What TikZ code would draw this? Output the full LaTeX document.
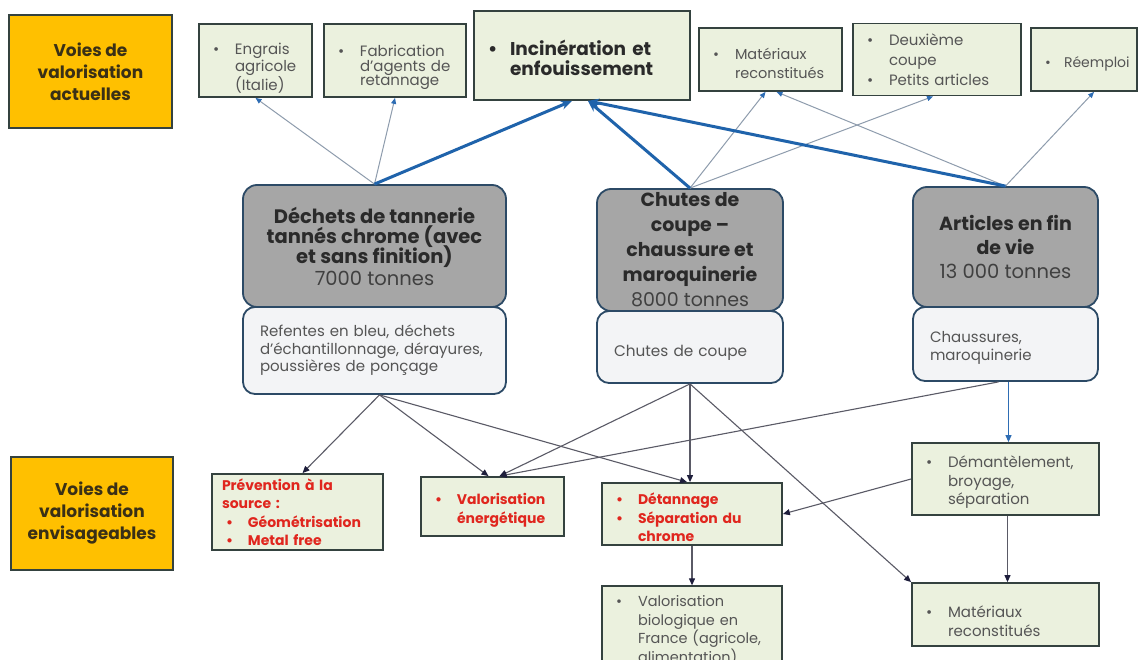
\documentclass[tikz,border=0pt]{standalone}
\usepackage{fontspec}
\setmainfont{Poppins}
\usetikzlibrary{arrows.meta}
\definecolor{orangefill}{HTML}{FFC000}
\definecolor{orangetext}{HTML}{3A3016}
\definecolor{greenfill}{HTML}{EBF1DE}
\definecolor{boxline}{HTML}{34423F}
\definecolor{grayfill}{HTML}{A6A6A6}
\definecolor{grayline}{HTML}{2C4A66}
\definecolor{whitefill}{HTML}{F3F4F6}
\definecolor{txtgray}{HTML}{555555}
\definecolor{txtdark}{HTML}{2A2A2A}
\definecolor{redtxt}{HTML}{E0261E}
\definecolor{bluethick}{HTML}{1F63AB}
\definecolor{thinline}{HTML}{8E9CAD}
\definecolor{bluetip}{HTML}{2E6DB4}
\definecolor{darkline}{HTML}{5A5A66}
\definecolor{darktip}{HTML}{1E1E3C}
\newcommand\bl[2][26pt]{\par\noindent\hangindent=#1\hangafter=1\hbox to #1{\hskip4pt\textbullet\hss}#2\par}
\newcommand\upst[1]{\rule{0pt}{#1}}
\newcommand\dnst[1]{\rule[-#1]{0pt}{0pt}}
\tikzset{
  orangebox/.style={draw=boxline, line width=1.6pt, fill=orangefill, text=orangetext,
    font=\fontsize{17}{22}\selectfont\bfseries, align=center},
  gbox/.style={draw=boxline, line width=1.8pt, fill=greenfill, text=txtgray,
    inner xsep=10pt, inner ysep=2pt, align=left, font=\fontsize{15}{18.5}\selectfont},
  rbox/.style={gbox, text=redtxt, font=\fontsize{14}{18.5}\selectfont\bfseries},
  graybox/.style={draw=grayline, line width=1.8pt, fill=grayfill, rounded corners=14pt,
    text=txtdark, align=center, inner ysep=0pt, font=\fontsize{19}{25}\selectfont\bfseries},
  wbox/.style={draw=grayline, line width=1.8pt, fill=whitefill, rounded corners=12pt,
    text=txtgray, align=left, inner xsep=17pt, font=\fontsize{15}{17.5}\selectfont},
  bigarrow/.style={draw=bluethick, line width=3pt, -{Stealth[length=11pt,width=9pt]}},
  thinup/.style={draw=thinline, line width=1pt, -{Triangle[length=6pt,width=5pt,color=bluetip]}},
  thindown/.style={draw=darkline, line width=1.1pt, -{Triangle[length=7pt,width=6pt,color=darktip]}},
  bluedown/.style={draw=bluetip, line width=1.1pt, -{Triangle[length=7pt,width=6pt]}},
}
\begin{document}
\lineskiplimit=-100pt
\begin{tikzpicture}[x=1pt,y=-1pt]
\fill[white] (0,0) rectangle (1146,660);
\useasboundingbox (0,0) rectangle (1146,660);

% left labels
\node[orangebox, minimum width=163, minimum height=113] (voies1) at (90.5,71.5)
  {Voies de\\valorisation\\actuelles};
\node[orangebox, minimum width=162, minimum height=113] (voies2) at (92,513.5)
  {Voies de\\valorisation\\envisageables};

% current routes
\node[gbox, minimum width=113, minimum height=73, text width=93, font=\fontsize{15}{14.5}\selectfont] (engrais) at (255.5,60.5)
  {\bl{\upst{26pt}Engrais\newline agricole\newline (Italie)}};
\node[gbox, minimum width=142, minimum height=73, text width=122, font=\fontsize{15}{14.5}\selectfont] (fabric) at (395,60.5)
  {\bl{\upst{25pt}Fabrication\newline d’agents de\newline retannage}};
\node[gbox, minimum width=216, minimum height=89, text width=196, text=txtdark,
  font=\fontsize{18.5}{20}\selectfont\bfseries] (incin) at (582,55.5)
  {\bl{Incinération et\newline enfouissement}};
\node[gbox, minimum width=143, minimum height=63, text width=123, font=\fontsize{14.5}{19}\selectfont] (mat1) at (770.5,59.5)
  {\bl{Matériaux\newline reconstitués}};
\node[gbox, minimum width=168, minimum height=63, text width=148, font=\fontsize{15}{20}\selectfont] (deux) at (937,59.5)
  {\bl{Deuxième\newline coupe}\bl{Petits articles\dnst{8pt}}};
\node[gbox, minimum width=106, minimum height=63, text width=86, font=\fontsize{14}{19}\selectfont] (reemp) at (1084,59.5)
  {\bl[23pt]{Réemploi}};

% sources (white detail boxes first)
\node[wbox, minimum width=263, minimum height=87, text width=229] (dwhite) at (374.5,350.5)
  {Refentes en bleu, déchets\\d’échantillonnage, dérayures,\\poussières de ponçage};
\node[wbox, minimum width=186, minimum height=72, text width=152, font=\fontsize{15.3}{17.5}\selectfont] (cwhite) at (690,347)
  {\upst{22pt}Chutes de coupe};
\node[wbox, minimum width=185, minimum height=74, text width=151] (awhite) at (1005.5,344)
  {\upst{19pt}Chaussures,\\maroquinerie};

\node[graybox, minimum width=263, minimum height=122, font=\fontsize{19.5}{20}\selectfont\bfseries] (dechets) at (374.5,246)
  {Déchets de tannerie\\tannés chrome (avec\\et sans finition)\\[2pt]{\mdseries\color{black!75}7000 tonnes}};
\node[graybox, minimum width=186, minimum height=122] (chutes) at (690,250)
  {Chutes de\\coupe –\\chaussure et\\maroquinerie\\{\mdseries\color{black!75}8000 tonnes}};
\node[graybox, minimum width=185, minimum height=120, font=\fontsize{19}{24}\selectfont\bfseries] (articles) at (1005.5,247)
  {Articles en fin\\de vie\\{\mdseries\fontsize{19.5}{24}\selectfont\color{black!75}13 000 tonnes}};

% possible routes
\node[rbox, minimum width=171, minimum height=76, text width=151] (prev) at (297.5,512)
  {Prévention à la\newline source :\par\bl{Géométrisation}\bl{Metal free}};
\node[rbox, minimum width=143, minimum height=59, text width=123] (valen) at (492.5,506.5)
  {\bl{Valorisation\newline énergétique}};
\node[rbox, minimum width=180, minimum height=62, text width=160] (detan) at (692,514)
  {\bl{Détannage}\bl{Séparation du\newline chrome}};
\node[gbox, minimum width=180, minimum height=80, text width=160, font=\fontsize{14.5}{18.5}\selectfont] (valbio) at (692,632)
  {\bl{Valorisation\newline biologique en\newline France (agricole,\newline alimentation)\dnst{13.5pt}}};
\node[gbox, minimum width=187, minimum height=72, text width=167] (demant) at (1005.5,479)
  {\bl{Démantèlement,\newline broyage,\newline séparation}};
\node[gbox, minimum width=187, minimum height=63, text width=167] (mat2) at (1005.5,614.5)
  {\bl{\upst{24pt}Matériaux\newline reconstitués}};

% connectors to current routes
\draw[thinup] (dechets.north) -- (engrais.south);
\draw[thinup] (dechets.north) -- (fabric.south);
\draw[thinup] (chutes.north) -- ([xshift=-5pt]mat1.south);
\draw[thinup] (chutes.north) -- ([xshift=-4pt]deux.south);
\draw[thinup] (articles.north) -- ([xshift=6pt]mat1.south);
\draw[thinup] (articles.north) -- ([xshift=10pt]reemp.south);
\draw[bigarrow] (dechets.north) -- ([xshift=-10pt]incin.south);
\draw[bigarrow] (chutes.north) -- ([xshift=6pt]incin.south);
\draw[bigarrow] (articles.north) -- ([xshift=6pt]incin.south);

% connectors to possible routes
\draw[thindown] ([xshift=5pt]dwhite.south) -- ([xshift=5pt]prev.north);
\draw[thindown] ([xshift=5pt]dwhite.south) -- ([xshift=-4pt]valen.north);
\draw[thindown] ([xshift=5pt]dwhite.south) -- ([xshift=-5pt]detan.north);
\draw[thindown] (cwhite.south) -- ([xshift=7pt]valen.north);
\draw[thindown] (cwhite.south) -- ([xshift=-2pt]detan.north);
\draw[thindown] (cwhite.south) -- (mat2.north west);
\draw[thindown] ([xshift=-7pt]awhite.south) -- ([xshift=7pt]valen.north);
\draw[bluedown] ([xshift=3pt]awhite.south) -- ([xshift=3pt]demant.north);
\draw[thindown] (demant.west) -- (detan.east);
\draw[thindown] ([xshift=2pt]demant.south) -- ([xshift=2pt]mat2.north);
\draw[thindown] (detan.south) -- (valbio.north);
\end{tikzpicture}
\end{document}
